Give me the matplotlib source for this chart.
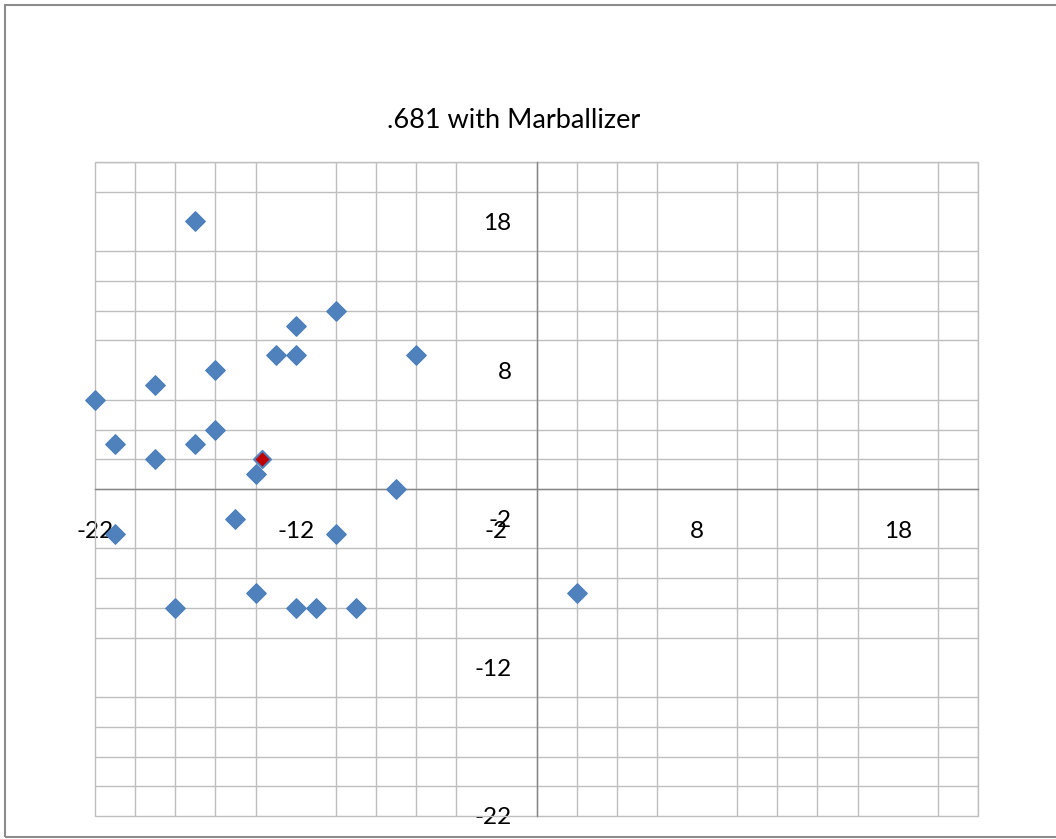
import matplotlib
matplotlib.use("Agg")
import matplotlib.pyplot as plt
from matplotlib.patches import Rectangle
import numpy as np

# scatter values
x_vals = [-17, -10, -12, -13, -12, -6, -19, -16, -22, -21, -17, -16,
          -19, -14, -7, -15, -21, -10, -18, -14, -12, -11, -9, 2]
y_vals = [18, 12, 11, 9, 9, 9, 7, 8, 6, 3, 3, 4,
          2, 1, 0, -2, -3, -3, -8, -7, -8, -8, -8, -7]
# highlighted (red) point
x_mark = [-13.7]
y_mark = [2]

ticks = [-22, -12, -2, 8, 18]
title = ".681 with Marballizer"

plt.rcParams['font.family'] = ['Lato', 'DejaVu Sans']

W, H = 1056, 839
fig = plt.figure(figsize=(W / 100, H / 100), dpi=100)

# chart area border
fig.add_artist(Rectangle((5 / W, 1 - 837 / H), 1.2, (837 - 5) / H,
                         transform=fig.transFigure, fill=False,
                         ec='#8c8c8c', lw=1.5))

left, right, top, bottom = 95, 978, 162, 816
ax = fig.add_axes([left / W, 1 - bottom / H, (right - left) / W, (bottom - top) / H])
ax.set_xlim(-22, 22)
ax.set_ylim(-22, 22)

grid = np.arange(-22, 23, 2)
ax.set_xticks(grid, minor=True)
ax.set_yticks(grid, minor=True)
ax.grid(which='minor', color='#bebebe', lw=1.0)
ax.set_axisbelow(True)
ax.add_patch(Rectangle((0, 0), 1, 1, transform=ax.transAxes, fill=False,
                       ec='#bebebe', lw=1.0, clip_on=False, zorder=1))

for s in ['top', 'right']:
    ax.spines[s].set_visible(False)
ax.spines['left'].set_position(('data', 0))
ax.spines['bottom'].set_position(('data', 0))
for s in ['left', 'bottom']:
    ax.spines[s].set_color('#868686')
    ax.spines[s].set_linewidth(1.0)

ax.set_xticks(ticks)
ax.set_yticks(ticks)
ax.set_xticklabels([str(t) for t in ticks])
ax.set_yticklabels([str(t) for t in ticks])
ax.tick_params(which='both', length=0)
ax.tick_params(axis='x', pad=23, labelsize=17.5)
ax.tick_params(axis='y', pad=18, labelsize=17.5)

ax.scatter(x_vals, y_vals, marker='D', s=100, color='#4f81bd',
           edgecolor='#4a7ebb', lw=0.8, zorder=3, clip_on=False)
ax.scatter(x_mark, y_mark, marker='D', s=75, color='#c00000',
           edgecolor='#4f81bd', lw=1.5, zorder=4, clip_on=False)

fig.text(514 / W, 1 - 120 / H, title, ha='center', va='center', fontsize=19.5)

fig.savefig("out.png", dpi=100)
